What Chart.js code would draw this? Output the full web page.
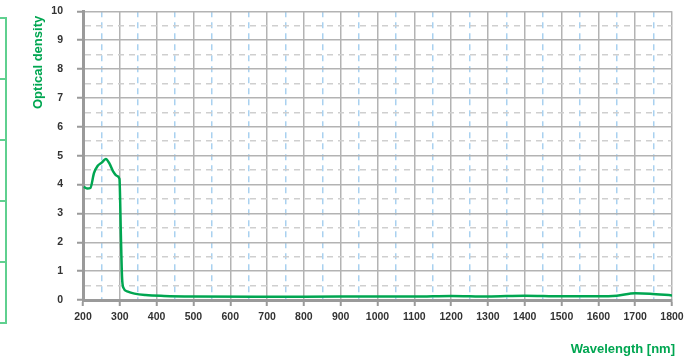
<!DOCTYPE html>
<html>
<head>
<meta charset="utf-8">
<script src="https://cdn.jsdelivr.net/npm/chart.js@4.4.1/dist/chart.umd.min.js"></script>
<style>
  body { margin: 0; background: #fff; width: 697px; height: 364px; overflow: hidden; position: relative; }
  #wrap { position: absolute; left: 0; top: -9px; width: 697px; height: 373px; }
  .ttl { position: absolute; color: #00a651; font-family: "Liberation Sans Narrow", "Liberation Sans", Arial, sans-serif; font-weight: bold; font-size: 13px; white-space: nowrap; }
  #ytitle { left: 38px; top: 18px; transform-origin: 0 0; transform: rotate(-90deg) translate(-91px, -8px); }
  #xtitle { right: 22px; top: 341px; }
  .panel { position: absolute; left: 0; width: 5px; height: 59px; border: 2px solid #5fd08f; border-left: none; }
</style>
</head>
<body>
<div class="panel" style="top:17px"></div>
<div class="panel" style="top:78px;height:59px"></div>
<div class="panel" style="top:139px;height:59px"></div>
<div class="panel" style="top:200px;height:59px"></div>
<div class="panel" style="top:261px;height:59px"></div>
<div id="wrap"><canvas id="odChart"></canvas></div>
<div class="ttl" id="ytitle">Optical density</div>
<div class="ttl" id="xtitle">Wavelength [nm]</div>
<script>
// wavelength (nm) and optical density
const wavelengths = [202, 212, 220, 230, 240, 250, 262, 272, 282, 292, 299, 303, 306, 310, 320, 340, 370, 420, 500,
                     700, 900, 1100, 1200, 1300, 1400, 1500, 1600, 1650, 1700, 1740, 1800];
const density = [3.92, 3.86, 3.88, 4.4, 4.65, 4.75, 4.88, 4.72, 4.45, 4.3, 4.2, 2.2, 0.8, 0.42, 0.3, 0.22, 0.17, 0.14, 0.12,
                 0.11, 0.12, 0.12, 0.14, 0.12, 0.15, 0.13, 0.13, 0.15, 0.23, 0.22, 0.16];
const xTickLabels = ['200','300','400','500','600','700','800','900','1000','1100','1200','1300','1400','1500','1600','1700','1800'];
const yTickLabels = ['0','1','2','3','4','5','6','7','8','9','10'];

const tickFont = { family: '"Liberation Sans Narrow", "Liberation Sans", Arial, sans-serif', weight: 'bold', size: 10.5 };
const green = '#00a651';

var points = [];
for (i = 0; i < wavelengths.length; i++) {
  points.push({ x: wavelengths[i], y: density[i] });
}

function isMajorX(v) { return v % 100 === 0; }
function isMajorY(v) { return Math.abs(v - Math.round(v)) < 1e-6; }

const ctx = document.getElementById('odChart');
new Chart(ctx, {
  type: 'line',
  data: {
    datasets: [{
      data: points,
      borderColor: green,
      borderWidth: 2.5,
      pointRadius: 0,
      fill: false,
      cubicInterpolationMode: 'monotone'
    }]
  },
  options: {
    animation: false,
    responsive: true,
    maintainAspectRatio: false,
    layout: { padding: { left: 0, right: 25, top: 2, bottom: 0 } },
    plugins: { legend: { display: false }, tooltip: { enabled: false } },
    scales: {
      x: {
        type: 'linear',
        min: 200,
        max: 1800,
        afterFit: function(s) { s.height = 64; },
        ticks: {
          stepSize: 50,
          autoSkip: false,
          maxRotation: 0,
          padding: 5,
          color: '#333',
          font: tickFont,
          callback: function(val) {
            return isMajorX(val) ? xTickLabels[(val - 200) / 100] : '';
          }
        },
        grid: {
          color: function(c) { return isMajorX(c.tick.value) ? '#b3b3b3' : '#a9d1f0'; },
          lineWidth: 1.5,
          tickLength: 6,
          tickWidth: 2,
          tickColor: function(c) { return isMajorX(c.tick.value) ? '#9a9a9a' : 'rgba(0,0,0,0)'; }
        },
        border: {
          display: true,
          color: '#9a9a9a',
          width: 3,
          dash: function(c) { return (c.tick && !isMajorX(c.tick.value)) ? [6, 5] : []; }
        }
      },
      y: {
        min: 0,
        max: 10,
        afterFit: function(s) { s.width = 83; },
        ticks: {
          stepSize: 0.5,
          autoSkip: false,
          padding: 14,
          color: '#333',
          font: tickFont,
          callback: function(val) {
            return isMajorY(val) ? yTickLabels[Math.round(val)] : '';
          }
        },
        grid: {
          color: function(c) { return isMajorY(c.tick.value) ? '#b3b3b3' : '#cfcfcf'; },
          lineWidth: 1.5,
          tickLength: 6,
          tickWidth: 2,
          tickColor: function(c) { return isMajorY(c.tick.value) ? '#9a9a9a' : 'rgba(0,0,0,0)'; }
        },
        border: {
          display: true,
          color: '#9a9a9a',
          width: 3,
          dash: function(c) { return (c.tick && !isMajorY(c.tick.value)) ? [6, 5] : []; }
        }
      }
    }
  }
});
</script>
</body>
</html>
